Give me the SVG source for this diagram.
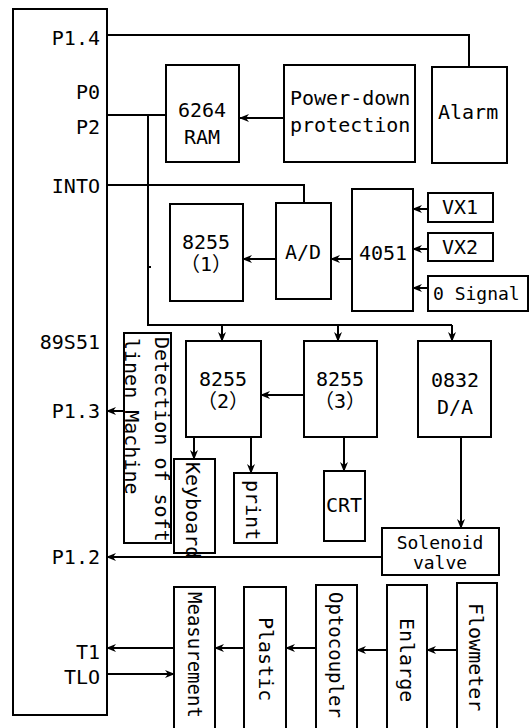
<svg xmlns="http://www.w3.org/2000/svg" width="529" height="728" viewBox="0 0 529 728">
<defs>
<marker id="ah" markerUnits="userSpaceOnUse" markerWidth="10" markerHeight="8" refX="9" refY="4" orient="auto">
<path d="M0,0 L10,4 L0,8 L3,4 z" fill="#000"/>
</marker>
<style>
.b{fill:#fff;stroke:#000;stroke-width:2}
.t{font-family:"DejaVu Sans Mono","Liberation Mono","Noto Sans CJK SC",monospace;font-size:20px;fill:#000;dominant-baseline:central}
.s{font-size:18px}
.s19{font-size:19px}
.m{text-anchor:middle}
.r{text-anchor:end}
.c{fill:none;stroke:#000;stroke-width:2}
.a{marker-end:url(#ah)}
</style>
</defs>
<rect width="529" height="728" fill="#fff"/>
<g id="connectors">
<path class="c" d="M107,35 H469 V67"/>
<path class="c" d="M107,115 H166"/>
<path class="c" d="M148,115 V325 H452"/>
<path class="c" d="M148,267 h3"/>
<path class="c a" d="M222,325 V341"/>
<path class="c a" d="M338,325 V341"/>
<path class="c a" d="M452,325 V341"/>
<path class="c a" d="M284,118 H240"/>
<path class="c" d="M107,185 H304 V203"/>
<path class="c a" d="M276,259 H243"/>
<path class="c a" d="M352,259 H331"/>
<path class="c a" d="M428,209 H413"/>
<path class="c a" d="M428,249 H413"/>
<path class="c a" d="M428,288 H413"/>
<path class="c a" d="M304,395 H261"/>
<path class="c a" d="M194,437 V459"/>
<path class="c a" d="M251,437 V473"/>
<path class="c a" d="M344,437 V471"/>
<path class="c a" d="M461,437 V528"/>
<path class="c a" d="M382,557 H107"/>
<path class="c a" d="M124,411 H107"/>
<path class="c a" d="M174,648 H107"/>
<path class="c a" d="M107,674 H174"/>
<path class="c a" d="M244,648 H215"/>
<path class="c a" d="M316,648 H286"/>
<path class="c a" d="M387,650 H357"/>
<path class="c a" d="M457,650 H427"/>
</g>
<g id="mcu">
<rect class="b" x="13" y="9" width="94" height="706"/>
<text class="t r" x="100" y="38">P1.4</text>
<text class="t r" x="100" y="92">P0</text>
<text class="t r" x="100" y="127">P2</text>
<text class="t r" x="100" y="186">INTO</text>
<text class="t r" x="100" y="342">89S51</text>
<text class="t r" x="100" y="411">P1.3</text>
<text class="t r" x="100" y="557">P1.2</text>
<text class="t r" x="100" y="652">T1</text>
<text class="t r" x="100" y="677">TLO</text>
</g>
<g id="ram">
<rect class="b" x="166" y="65" width="73" height="97"/>
<text class="t m" x="202" y="110">6264</text>
<text class="t m" x="202" y="137">RAM</text>
</g>
<g id="powerdown">
<rect class="b" x="284" y="65" width="131" height="97"/>
<text class="t" x="290" y="98">Power-down</text>
<text class="t" x="290" y="125">protection</text>
</g>
<g id="alarm">
<rect class="b" x="432" y="67" width="75" height="96"/>
<text class="t" x="438" y="112">Alarm</text>
</g>
<g id="p8255-1">
<rect class="b" x="170" y="204" width="73" height="97"/>
<text class="t m" x="206" y="242">8255</text>
<text class="t m" x="206" y="264">（1）</text>
</g>
<g id="ad">
<rect class="b" x="276" y="203" width="55" height="96"/>
<text class="t m" x="303" y="252">A/D</text>
</g>
<g id="mux4051">
<rect class="b" x="352" y="189" width="61" height="122"/>
<text class="t m" x="383" y="253">4051</text>
</g>
<g id="vx1">
<rect class="b" x="428" y="193" width="65" height="29"/>
<text class="t m" x="460" y="207">VX1</text>
</g>
<g id="vx2">
<rect class="b" x="428" y="233" width="65" height="28"/>
<text class="t m" x="460" y="247">VX2</text>
</g>
<g id="zero-signal">
<rect class="b" x="428" y="276" width="100" height="35"/>
<text class="t s" x="433" y="293">0 Signal</text>
</g>
<g id="detection">
<rect class="b" x="124" y="333" width="47" height="210"/>
<text class="t" transform="translate(162,337) rotate(90)">Detection of soft</text>
<text class="t" transform="translate(132,338) rotate(90)">linen Machine</text>
</g>
<g id="p8255-2">
<rect class="b" x="186" y="341" width="75" height="96"/>
<text class="t m" x="223" y="379">8255</text>
<text class="t m" x="223" y="401">（2）</text>
</g>
<g id="p8255-3">
<rect class="b" x="304" y="341" width="73" height="96"/>
<text class="t m" x="340" y="379">8255</text>
<text class="t m" x="340" y="401">（3）</text>
</g>
<g id="da0832">
<rect class="b" x="418" y="341" width="73" height="96"/>
<text class="t m" x="455" y="380">0832</text>
<text class="t m" x="455" y="407">D/A</text>
</g>
<g id="keyboard">
<rect class="b" x="174" y="459" width="41" height="94"/>
<text class="t" transform="translate(193,462) rotate(90)">Keyboard</text>
</g>
<g id="print">
<rect class="b" x="234" y="473" width="43" height="70"/>
<text class="t" transform="translate(253,480) rotate(90)">print</text>
</g>
<g id="crt">
<rect class="b" x="324" y="471" width="41" height="70"/>
<text class="t m" x="344" y="505">CRT</text>
</g>
<g id="solenoid">
<rect class="b" x="382" y="528" width="117" height="47"/>
<text class="t m s" x="440" y="542">Solenoid</text>
<text class="t m s" x="440" y="562">valve</text>
</g>
<g id="measurement">
<rect class="b" x="174" y="587" width="41" height="150"/>
<text class="t s19" transform="translate(195,592) rotate(90)">Measurement</text>
</g>
<g id="plastic">
<rect class="b" x="244" y="587" width="42" height="150"/>
<text class="t" transform="translate(266,617) rotate(90)">Plastic</text>
</g>
<g id="optocoupler">
<rect class="b" x="316" y="585" width="41" height="152"/>
<text class="t s19" transform="translate(336,592) rotate(90)">Optocoupler</text>
</g>
<g id="enlarge">
<rect class="b" x="387" y="585" width="40" height="152"/>
<text class="t" transform="translate(407,618) rotate(90)">Enlarge</text>
</g>
<g id="flowmeter">
<rect class="b" x="457" y="583" width="40" height="154"/>
<text class="t" transform="translate(476,603) rotate(90)">Flowmeter</text>
</g>
</svg>
